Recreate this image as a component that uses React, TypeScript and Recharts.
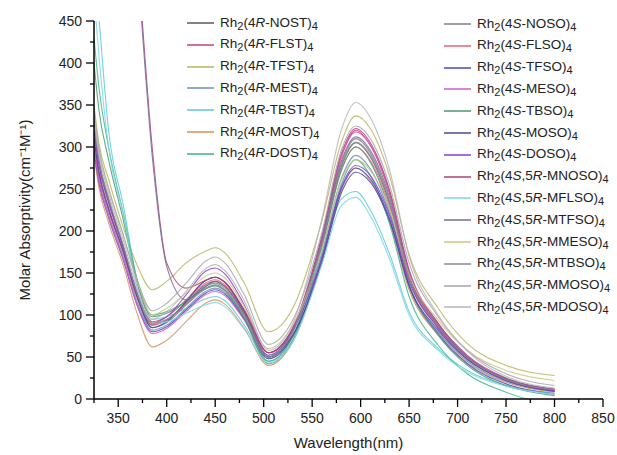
import React from "react";
import { LineChart, Line, XAxis, YAxis } from "recharts";

// wavelength grid (nm) shared by every spectrum
const WAVELENGTH = [325, 330, 340, 355, 370, 385, 400, 420, 440, 450, 460, 480, 505, 530, 560, 580, 595, 610, 630, 650, 680, 710, 750, 800];

const NOST = [330, 285, 238, 182, 122, 88, 94, 114, 136, 140, 134, 102, 50, 80, 184, 276, 305, 288, 232, 144, 85, 48, 22, 10];
const FLST = [310, 272, 228, 178, 124, 92, 98, 118, 141, 145, 139, 106, 55, 84, 190, 288, 320, 302, 244, 150, 88, 50, 24, 11];
const TFST = [350, 305, 262, 205, 158, 130, 140, 162, 176, 180, 174, 138, 80, 108, 212, 305, 337, 322, 265, 172, 108, 66, 40, 28];
const MEST = [300, 262, 220, 170, 114, 82, 88, 108, 128, 132, 127, 96, 48, 76, 174, 262, 290, 274, 220, 136, 80, 45, 21, 9];
const TBST = [520, 455, 320, 232, 138, 95, 98, 108, 119, 122, 117, 88, 45, 70, 165, 238, 247, 225, 172, 104, 60, 34, 16, 7];
const MOST = [290, 252, 210, 160, 100, 62, 70, 92, 114, 118, 113, 84, 40, 68, 164, 248, 275, 260, 210, 130, 76, 43, 20, 8];
const DOST = [430, 372, 300, 222, 140, 100, 104, 116, 131, 135, 129, 95, 42, 70, 170, 255, 285, 266, 208, 122, 64, 30, 8, -8];
const NOSO = [320, 278, 234, 180, 120, 85, 91, 112, 134, 138, 132, 100, 52, 82, 186, 280, 310, 293, 236, 146, 86, 49, 23, 11];
const FLSO = [305, 266, 224, 174, 118, 88, 94, 115, 138, 142, 136, 104, 55, 83, 182, 272, 300, 284, 229, 142, 84, 48, 23, 10];
const TFSO = [295, 258, 216, 166, 110, 80, 86, 106, 126, 130, 125, 95, 48, 74, 166, 250, 275, 262, 214, 134, 78, 42, 18, 6];
const MESO = [300, 260, 218, 168, 110, 78, 84, 104, 124, 128, 123, 94, 50, 80, 192, 288, 318, 302, 246, 152, 90, 51, 24, 11];
const TBSO = [400, 345, 285, 214, 136, 98, 102, 116, 132, 136, 130, 97, 45, 74, 180, 272, 300, 282, 224, 136, 76, 40, 16, 4];
const MOSO = [310, 270, 226, 176, 120, 85, 92, 116, 141, 145, 139, 104, 50, 76, 162, 245, 270, 258, 212, 135, 82, 47, 22, 9];
const DOSO = [320, 280, 234, 182, 125, 90, 98, 124, 152, 156, 149, 112, 55, 82, 168, 252, 278, 266, 218, 140, 85, 49, 23, 10];
const MNOSO = [900, 880, 820, 700, 520, 300, 162, 132, 141, 145, 139, 106, 55, 85, 194, 292, 322, 305, 248, 154, 90, 52, 25, 12];
const MFLSO = [480, 410, 300, 220, 130, 90, 92, 102, 112, 115, 110, 83, 43, 68, 160, 230, 240, 218, 166, 100, 58, 32, 15, 6];
const MTFSO = [900, 880, 820, 700, 510, 290, 158, 118, 134, 140, 134, 102, 52, 82, 188, 283, 312, 296, 240, 148, 87, 50, 24, 11];
const MMESO = [340, 296, 250, 196, 138, 100, 108, 126, 146, 150, 144, 110, 60, 88, 178, 260, 285, 272, 226, 148, 94, 58, 34, 22];
const MTBSO = [330, 286, 240, 184, 124, 90, 95, 112, 131, 135, 129, 99, 50, 80, 184, 277, 306, 290, 234, 145, 86, 49, 23, 11];
const MMOSO = [345, 300, 252, 196, 140, 105, 114, 138, 164, 169, 162, 124, 65, 94, 198, 296, 325, 310, 254, 162, 98, 58, 30, 16];
const MDOSO = [335, 292, 245, 190, 130, 95, 104, 128, 155, 160, 153, 117, 58, 90, 214, 320, 353, 335, 272, 170, 100, 57, 27, 13];

const LEFT_LABELS = ["4R-NOST", "4R-FLST", "4R-TFST", "4R-MEST", "4R-TBST", "4R-MOST", "4R-DOST"];
const RIGHT_LABELS = [
  "4S-NOSO", "4S-FLSO", "4S-TFSO", "4S-MESO", "4S-TBSO", "4S-MOSO", "4S-DOSO",
  "4S,5R-MNOSO", "4S,5R-MFLSO", "4S,5R-MTFSO", "4S,5R-MMESO", "4S,5R-MTBSO", "4S,5R-MMOSO", "4S,5R-MDOSO",
];
const VALUES = [NOST, FLST, TFST, MEST, TBST, MOST, DOST, NOSO, FLSO, TFSO, MESO, TBSO, MOSO, DOSO, MNOSO, MFLSO, MTFSO, MMESO, MTBSO, MMOSO, MDOSO];
const COLORS = [
  "#5a5a5a", "#c8406c", "#b8b45a", "#6a8cc0", "#5cc8d8", "#d8905a", "#3cb48a",
  "#808080", "#e8607a", "#4a4ab8", "#d858c8", "#4a9a6a", "#484898", "#8a3ad8",
  "#b0407a", "#7ad8e8", "#7a6a9a", "#c8c880", "#8a8a92", "#a4a4ac", "#b4b4bc",
];

const X_TICKS = [325, 350, 375, 400, 425, 450, 475, 500, 525, 550, 575, 600, 625, 650, 675, 700, 725, 750, 775, 800, 825, 850];
const Y_TICKS = [0, 25, 50, 75, 100, 125, 150, 175, 200, 225, 250, 275, 300, 325, 350, 375, 400, 425, 450];

const FONT = "'Liberation Sans', Arial, sans-serif";
const LABELS = [...LEFT_LABELS, ...RIGHT_LABELS];

const data = WAVELENGTH.map((w, i) => {
  const row: Record<string, number> = { w };
  VALUES.forEach((v, k) => (row["s" + k] = v[i]));
  return row;
});

const XTick = ({ x, y, payload }: any) => {
  const major = payload.value % 50 === 0;
  return (
    <g>
      <line x1={x} x2={x} y1={y} y2={y + (major ? 8 : 4)} stroke="#000" strokeWidth={1.3} />
      {major && payload.value !== 325 && (
        <text x={x} y={y + 24} textAnchor="middle" fontSize={14} fontFamily={FONT} fill="#222">
          {payload.value}
        </text>
      )}
    </g>
  );
};

const YTick = ({ x, y, payload }: any) => {
  const major = payload.value % 50 === 0;
  return (
    <g>
      <line x1={x - (major ? 8 : 4)} x2={x} y1={y} y2={y} stroke="#000" strokeWidth={1.3} />
      {major && (
        <text x={x - 12} y={y + 5} textAnchor="end" fontSize={14} fontFamily={FONT} fill="#222">
          {payload.value}
        </text>
      )}
    </g>
  );
};

const YTitle = ({ viewBox }: any) => {
  const cy = viewBox.y + viewBox.height / 2;
  return (
    <text x={30} y={cy} transform={`rotate(-90 30 ${cy})`} textAnchor="middle" fontSize={15} fontFamily={FONT} fill="#222">
      Molar Absorptivity(cm⁻¹M⁻¹)
    </text>
  );
};

const XTitle = ({ viewBox }: any) => (
  <text x={viewBox.x + viewBox.width / 2} y={448} textAnchor="middle" fontSize={15} fontFamily={FONT} fill="#222">
    Wavelength(nm)
  </text>
);

function Compound({ text }: { text: string }) {
  const [stereo, rest] = text.split("-");
  return (
    <span>
      Rh<sub style={{ fontSize: 11, verticalAlign: -3 }}>2</sub>(
      {stereo.split("").map((c, i) => (/[RS]/.test(c) ? <i key={i}>{c}</i> : c))}-{rest})
      <sub style={{ fontSize: 11, verticalAlign: -3 }}>4</sub>
    </span>
  );
}

function LegendColumn({ labels, offset, left, top }: { labels: string[]; offset: number; left: number; top: number }) {
  return (
    <>
      {labels.map((t, i) => (
        <div
          key={t}
          style={{
            position: "absolute", left, top: top + i * 21.8 - 9, height: 18,
            display: "flex", alignItems: "center", whiteSpace: "nowrap",
            fontFamily: FONT, fontSize: 13.5, color: "#222",
          }}
        >
          <svg width={33} height={18}>
            <line x1={0} x2={27} y1={9} y2={9} stroke={COLORS[offset + i]} strokeWidth={1.5} />
          </svg>
          <Compound text={t} />
        </div>
      ))}
    </>
  );
}

export default function App() {
  return (
    <div style={{ position: "absolute", left: 0, top: 0, width: 617, height: 455, background: "#fff" }}>
      <LineChart width={617} height={455} data={data} margin={{ top: 21, right: 14, bottom: 0, left: 0 }}>
        <XAxis
          type="number" dataKey="w" domain={[325, 850]} ticks={X_TICKS} interval={0}
          tickSize={0} tickMargin={0} tick={<XTick />} height={56}
          axisLine={{ stroke: "#000", strokeWidth: 1.5 }} allowDataOverflow
          label={<XTitle />}
        />
        <YAxis
          type="number" domain={[0, 450]} ticks={Y_TICKS} interval={0}
          tickSize={0} tickMargin={0} tick={<YTick />} width={94}
          axisLine={{ stroke: "#000", strokeWidth: 1.5 }} allowDataOverflow
          label={<YTitle />}
        />
        {VALUES.map((_, k) => (
          <Line
            key={k} type="monotone" dataKey={"s" + k} name={LABELS[k]}
            stroke={COLORS[k]} strokeWidth={1.1} strokeOpacity={0.85}
            dot={false} isAnimationActive={false}
          />
        ))}
      </LineChart>
      <LegendColumn labels={LEFT_LABELS} offset={0} left={187} top={23} />
      <LegendColumn labels={RIGHT_LABELS} offset={LEFT_LABELS.length} left={444} top={24} />
    </div>
  );
}
